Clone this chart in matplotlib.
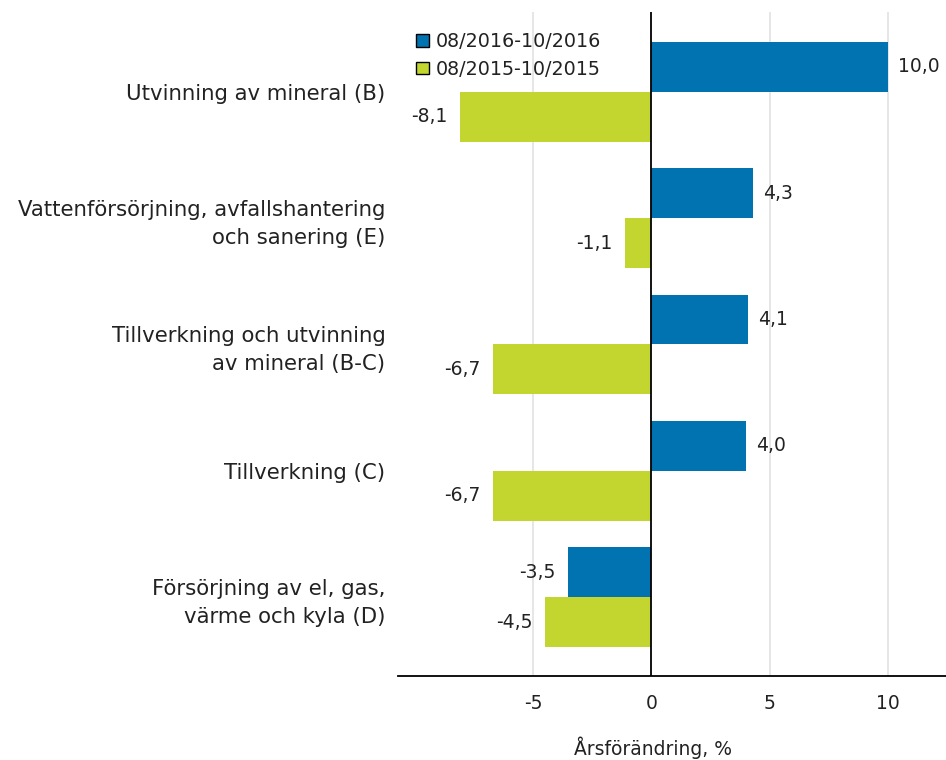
import numpy as np
import matplotlib.pyplot as plt

plt.rcParams['font.family'] = ['DejaVu Sans']

# data
categories = [
    "Utvinning av mineral (B)",
    "Vattenförsörjning, avfallshantering\noch sanering (E)",
    "Tillverkning och utvinning\nav mineral (B-C)",
    "Tillverkning (C)",
    "Försörjning av el, gas,\nvärme och kyla (D)",
]
series_2016 = [10.0, 4.3, 4.1, 4.0, -3.5]
series_2015 = [-8.1, -1.1, -6.7, -6.7, -4.5]
labels = ["08/2016-10/2016", "08/2015-10/2015"]

blue = "#0073B0"
green = "#C3D62F"
fs = 13.5
txt = "#222222"

fig = plt.figure(figsize=(9.46, 7.6), dpi=100)
ax = fig.add_axes([398 / 946, 1 - 676 / 760, 1 - 398 / 946, (676 - 12) / 760])

y = np.arange(len(categories))
h = 0.395
ax.barh(y - h / 2, series_2016, height=h, color=blue, label=labels[0], zorder=3)
ax.barh(y + h / 2, series_2015, height=h, color=green, label=labels[1], zorder=3)

def fmt(v):
    return f"{v:.1f}".replace(".", ",")

for yy, vals in ((y - h / 2, series_2016), (y + h / 2, series_2015)):
    for yi, v in zip(yy, vals):
        if v >= 0:
            ax.annotate(fmt(v), (v, yi), xytext=(7, 0), textcoords="offset points",
                        va="center", ha="left", fontsize=fs, color=txt)
        else:
            ax.annotate(fmt(v), (v, yi), xytext=(-9, 0), textcoords="offset points",
                        va="center", ha="right", fontsize=fs, color=txt)

ax.set_xlim(-10.7, 12.45)
ax.set_ylim(4.625, -0.632)
ax.set_xticks([-5, 0, 5, 10])
ax.set_xticklabels(["-5", "0", "5", "10"], fontsize=fs, color=txt)
ax.set_yticks(y)
ax.set_yticklabels(categories, fontsize=15.3, ha="right", linespacing=1.5,
                   color=txt)
ax.tick_params(axis="y", length=0, pad=9)
ax.tick_params(axis="x", length=0, pad=13)

for x in (-5, 5, 10):
    ax.axvline(x, color="#e2e2e2", lw=1.2, zorder=1)
ax.axvline(0, color="black", lw=1.3, zorder=4)

for s in ("top", "right", "left"):
    ax.spines[s].set_visible(False)
ax.spines["bottom"].set_linewidth(1.3)

ax.set_xlabel("Årsförändring, %", fontsize=fs, color=txt)
ax.xaxis.set_label_coords((653 - 398) / 548, -0.091)

leg = ax.legend(loc="upper left", bbox_to_anchor=(0.0, 0.997), frameon=False,
                fontsize=13.8, handlelength=0.65, handleheight=0.65,
                handletextpad=0.35, labelspacing=0.45, borderaxespad=0.55)
for p in leg.get_patches():
    p.set_edgecolor("black")
    p.set_linewidth(1.0)
for t in leg.get_texts():
    t.set_color(txt)

fig.savefig("out.png", dpi=100)
